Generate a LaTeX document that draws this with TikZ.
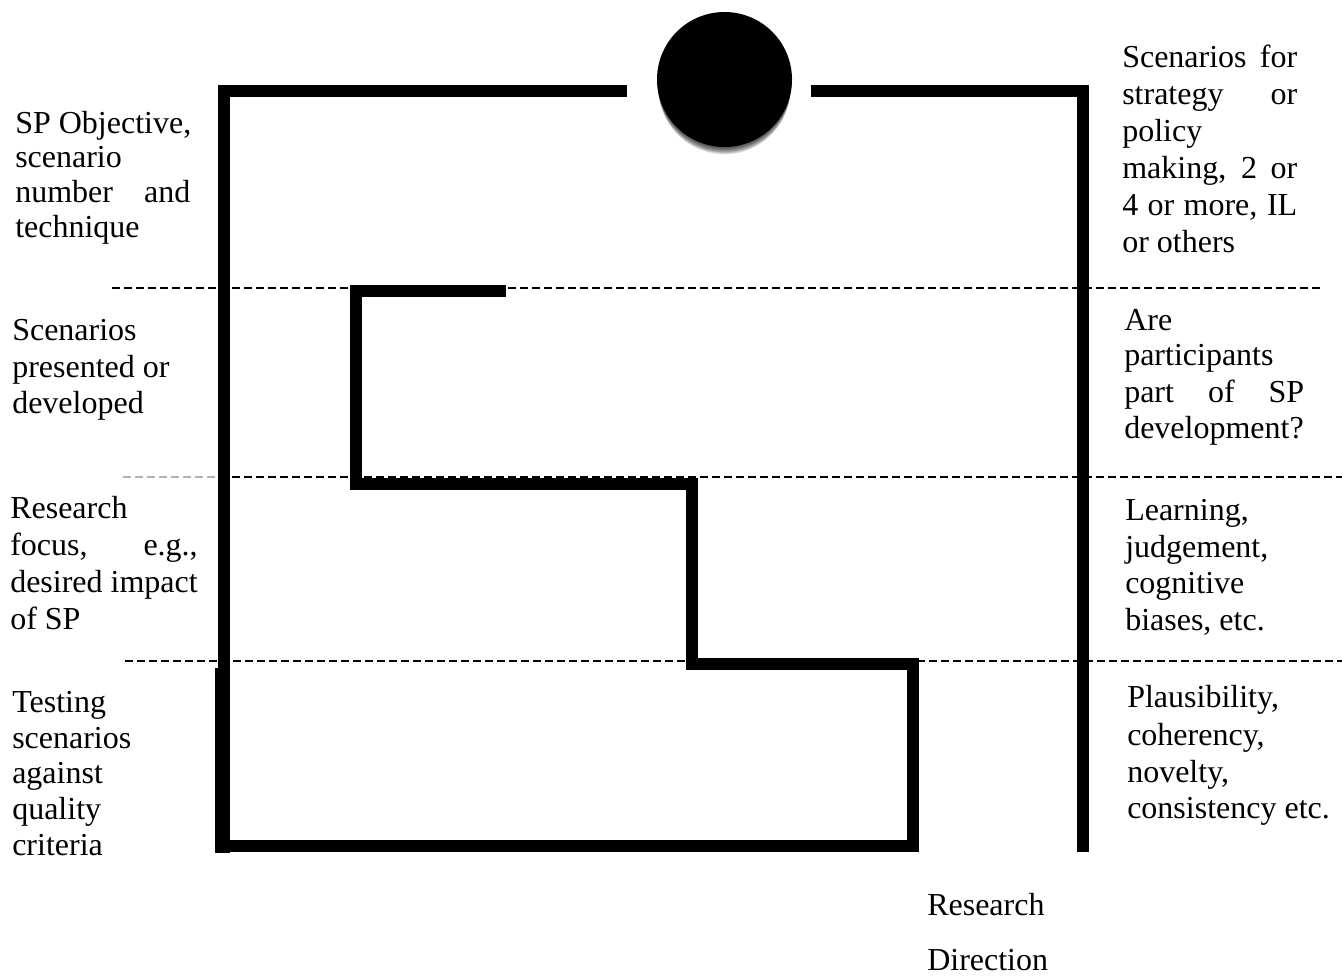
\documentclass[tikz,border=0pt]{standalone}
\usepackage{fontspec}
\setmainfont{Liberation Serif}
\newcommand{\jline}[2]{\makebox[#1][s]{#2}}
\begin{document}
\begin{tikzpicture}[x=0.75pt,y=-0.75pt,
  wall/.style={line width=9pt, line join=miter, line cap=butt},
  sepline/.style={line width=1.5pt, dash pattern=on 6pt off 3pt},
  lbl/.style={anchor=base west, inner sep=0pt, font=\fontsize{24}{28}\selectfont}]
\useasboundingbox (0,0) rectangle (1342,976);
% dashed separators
\draw[sepline] (112,288) -- (1320,288);
\draw[sepline, gray!60, line width=0.8pt] (123,477) -- (222,477);
\draw[sepline] (232,477) -- (1342,477);
\draw[sepline] (125,661) -- (1342,661);
% walls
\draw[wall] (627,91) -- (224,91) -- (224,846) -- (913,846) -- (913,664) -- (692,664) -- (692,484) -- (356,484) -- (356,291) -- (506,291);
\draw[line width=11.25pt] (222.5,668) -- (222.5,853);
\draw[wall] (811,91) -- (1083,91) -- (1083,852);
% ball with soft shadow below
\foreach \i in {1,...,10}
  \fill[black, fill opacity=0.1] (724.5,79.5+\i*0.9) circle[radius=50.6pt-\i*0.12pt];
\node[circle, fill=black, minimum size=101.25pt, inner sep=0pt] (ball) at (724.5,79.5) {};
% left texts
\node[lbl] (la1) at (15,133) {SP Objective,};
\node[lbl] (la2) at (15,167) {scenario};
\node[lbl] (la3) at (15,202) {\jline{131.25pt}{number and}};
\node[lbl] (la4) at (15,237) {technique};
\node[lbl] (lb1) at (12,340) {Scenarios};
\node[lbl] (lb2) at (12,377) {presented or};
\node[lbl] (lb3) at (12,413) {developed};
\node[lbl] (lc1) at (10,518) {Research};
\node[lbl] (lc2) at (10,555) {\jline{140.6pt}{focus, e.g.,}};
\node[lbl] (lc3) at (10,592) {desired impact};
\node[lbl] (lc4) at (10,629) {of SP};
\node[lbl] (ld1) at (12,712) {Testing};
\node[lbl] (ld2) at (12,748) {scenarios};
\node[lbl] (ld3) at (12,783) {against};
\node[lbl] (ld4) at (12,819) {quality};
\node[lbl] (ld5) at (12,855) {criteria};
% right texts
\node[lbl] (ra1) at (1122,67) {\jline{131.25pt}{Scenarios for}};
\node[lbl] (ra2) at (1122,104) {\jline{131.25pt}{strategy or}};
\node[lbl] (ra3) at (1122,141) {policy};
\node[lbl] (ra4) at (1122,178) {\jline{131.25pt}{making, 2 or}};
\node[lbl] (ra5) at (1122,215) {\jline{131.25pt}{4 or more, IL}};
\node[lbl] (ra6) at (1122,252) {or others};
\node[lbl] (rb1) at (1124,330) {Are};
\node[lbl] (rb2) at (1124,365) {participants};
\node[lbl] (rb3) at (1124,402) {\jline{135pt}{part of SP}};
\node[lbl] (rb4) at (1124,438) {development?};
\node[lbl] (rc1) at (1125,520) {Learning,};
\node[lbl] (rc2) at (1125,557) {judgement,};
\node[lbl] (rc3) at (1125,593) {cognitive};
\node[lbl] (rc4) at (1125,630) {biases, etc.};
\node[lbl] (rd1) at (1127,707) {Plausibility,};
\node[lbl] (rd2) at (1127,745) {coherency,};
\node[lbl] (rd3) at (1127,782) {novelty,};
\node[lbl] (rd4) at (1127,818) {consistency etc.};
% research direction
\node[lbl] (dir1) at (927,915) {Research};
\node[lbl] (dir2) at (927,970) {Direction};
\end{tikzpicture}
\end{document}
